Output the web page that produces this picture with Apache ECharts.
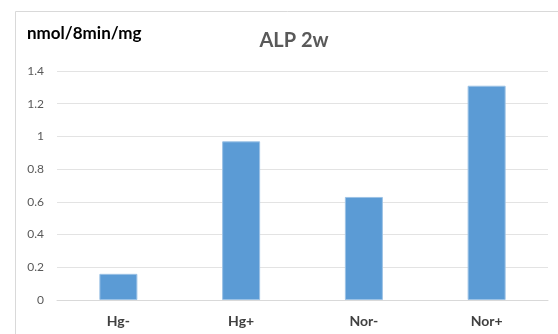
<!DOCTYPE html>
<html>
<head>
<meta charset="utf-8">
<script src="https://cdn.jsdelivr.net/npm/echarts@6/dist/echarts.min.js"></script>
<style>
  html, body { margin: 0; padding: 0; background: #fff; }
  #chart { width: 558px; height: 334px; }
</style>
</head>
<body>
<div id="chart"></div>
<script>
// ALP activity after 2 weeks, per group
const categories = ['Hg-', 'Hg+', 'Nor-', 'Nor+'];
const values = [0.16, 0.97, 0.63, 1.31];
const yTicks = { min: 0, max: 1.4, interval: 0.2 };

const chart = echarts.init(document.getElementById('chart'));
chart.setOption({
  animation: false,
  backgroundColor: '#ffffff',
  textStyle: { fontFamily: 'Lato' },
  graphic: [
    {
      type: 'rect',
      shape: { x: 15.5, y: 11.5, width: 600, height: 400 },
      style: { fill: 'none', stroke: '#d9d9d9', lineWidth: 1 },
      silent: true
    },
    {
      type: 'text',
      left: 27, top: 25,
      style: { text: 'nmol/8min/mg', font: 'bold 17px Lato', fill: '#000000' }
    }
  ],
  title: {
    text: 'ALP 2w',
    left: 289, top: 26, textAlign: 'center',
    textStyle: { fontFamily: 'Lato', fontSize: 20, fontWeight: 'bold', color: '#595959' }
  },
  grid: { left: 57, right: 10, top: 71, bottom: 34, containLabel: false },
  xAxis: {
    type: 'category',
    data: categories,
    axisLine: { show: true, lineStyle: { color: '#d9d9d9' } },
    axisTick: { show: false },
    axisLabel: { margin: 14, fontSize: 14, fontWeight: 'bold', color: '#404040', fontFamily: 'Lato' }
  },
  yAxis: {
    type: 'value',
    min: yTicks.min, max: yTicks.max, interval: yTicks.interval,
    axisLine: { show: false },
    axisTick: { show: false },
    splitLine: { lineStyle: { color: '#e3e3e3', width: 1 } },
    axisLabel: {
      margin: 13, fontSize: 12, color: '#595959', fontFamily: 'Lato',
      formatter: v => String(Math.round(v * 10) / 10)
    }
  },
  series: [{
    type: 'bar',
    data: values,
    barWidth: 38,
    itemStyle: { color: '#5b9bd5', borderColor: '#9cc2e5', borderWidth: 1 }
  }]
});
</script>
</body>
</html>
